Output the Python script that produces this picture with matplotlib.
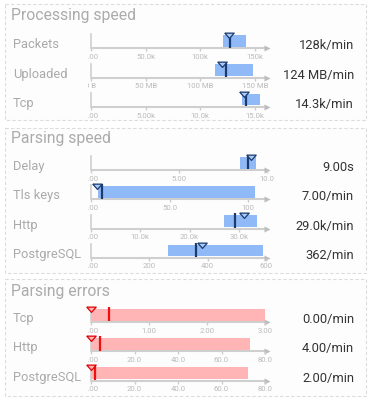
import matplotlib
matplotlib.use("Agg")
import matplotlib.pyplot as plt
from matplotlib.patches import Rectangle
from matplotlib.transforms import Bbox

plt.rcParams['font.family'] = ['Roboto', 'DejaVu Sans']

# ---------------- data ----------------
panel_titles = ["Processing speed", "Parsing speed", "Parsing errors"]
row_panel = [0, 0, 0, 1, 1, 1, 1, 2, 2, 2]
row_labels = ["Packets", "Uploaded", "Tcp", "Delay", "Tls keys", "Http",
              "PostgreSQL", "Tcp", "Http", "PostgreSQL"]
range_lo = [121, 113, 13.8, 8.5, 4.2, 26.9, 265, 0, 0, 0]
range_hi = [142, 148.5, 15.5, 9.37, 104.5, 33.7, 591, 3.0, 73, 72]
line_vals = [127.5, 123.5, 14.2, 8.93, 7.2, 29.2, 359, 0.31, 4.1, 1.8]
marker_vals = [126.6, 120, 13.96, 9.1, 3.6, 31.0, 382, 0, 0, 0]
axis_max = [161, 161, 16.1, 10.02, 111.9, 35.7, 603, 3.03, 80.9, 80.9]
tick_vals = [[0, 50, 100, 150], [0, 50, 100, 150], [0, 5, 10, 15],
             [0, 5, 10], [0, 50, 100], [0, 10, 20, 30], [0, 200, 400, 600],
             [0, 1, 2, 3], [0, 20, 40, 60, 80], [0, 20, 40, 60, 80]]
tick_text = [["0.00", "50.0k", "100k", "150k"],
             ["0 B", "50 MB", "100 MB", "150 MB"],
             ["0.00", "5.00k", "10.0k", "15.0k"],
             ["0.00", "5.00", "10.0"],
             ["0.00", "50.0", "100"],
             ["0.00", "10.0k", "20.0k", "30.0k"],
             ["0.00", "200", "400", "600"],
             ["0.00", "1.00", "2.00", "3.00"],
             ["0.00", "20.0", "40.0", "60.0", "80.0"],
             ["0.00", "20.0", "40.0", "60.0", "80.0"]]
value_text = ["128k/min", "124 MB/min", "14.3k/min", "9.00s", "7.00/min",
              "29.0k/min", "362/min", "0.00/min", "4.00/min", "2.00/min"]

# ---------------- style / layout ----------------
W, H = 371, 406
panel_boxes = [(4.5, 5, 366, 121), (4.5, 128.5, 366, 273.5), (4.5, 280, 366, 397)]
title_base = [20.0, 143.3, 295.7]
first_axis_y = [49.3, 171.0, 323.0]
row_step = 29.3
ax_x0, ax_x1 = 91, 267
ax_h = 15

blue = dict(bar="#8fbaf7", line="#1b3a6e", tri_fc="#a9c9f8", tri_ec="#1b3a6e")
red = dict(bar="#ffb5b5", line="#f01010", tri_fc="#ffb5b5", tri_ec="#e00000")
panel_colors = [blue, blue, red]

fig = plt.figure(figsize=(W / 100, H / 100), dpi=100)
fig.patch.set_facecolor("white")
base = fig.add_axes([0, 0, 1, 1])
base.set_xlim(0, W)
base.set_ylim(H, 0)
base.axis("off")

for (x0, y0, x1, y1), t, tb in zip(panel_boxes, panel_titles, title_base):
    base.add_patch(Rectangle((x0, y0), x1 - x0, y1 - y0, facecolor="#fdfdfd",
                             edgecolor="#dcdcdc", lw=0.8, linestyle=(0, (3, 2))))
    base.text(11, tb, t, fontsize=11.3, color="#ababab", va="baseline", ha="left")

clip = Bbox([[88.3, 0], [W, H]])
tri = [(-1, 0.5), (1, 0.5), (0, -0.62), (-1, 0.5)]

counts = {}
for i in range(len(row_labels)):
    p = row_panel[i]
    k = counts.get(p, 0)
    counts[p] = k + 1
    ay = first_axis_y[p] + k * row_step
    c = panel_colors[p]

    base.text(13, ay - 1, row_labels[i], fontsize=9.3, color="#aaaaaa",
              va="baseline", ha="left")
    base.text(354, ay, value_text[i], fontsize=9.3, color="#333333",
              va="baseline", ha="right")

    ax = fig.add_axes([ax_x0 / W, (H - ay) / H, (ax_x1 - ax_x0) / W, ax_h / H])
    ax.set_facecolor("none")
    ax.set_xlim(0, axis_max[i])
    ax.set_ylim(0, ax_h)
    for s in ["top", "right", "left", "bottom"]:
        ax.spines[s].set_visible(False)
    ax.set_yticks([])
    ax.set_xticks(tick_vals[i])
    ax.set_xticklabels([])
    ax.tick_params(axis="x", direction="out", length=2.5, width=1,
                   color="#cccccc")

    # axis line, left rule, arrow
    ax.plot([0, axis_max[i]], [0, 0], color="#cfcfcf", lw=1.5,
            solid_capstyle="butt", clip_on=False, zorder=1)
    ax.plot([0, 0], [0, 14], color="#cfcfcf", lw=1.2, clip_on=False, zorder=1)
    ax.plot([axis_max[i]], [0], marker=">", ms=5, color="#bdbdbd",
            mec="none", clip_on=False, zorder=1)

    # range bar
    ax.barh([7.4], [range_hi[i] - range_lo[i]], left=[range_lo[i]],
            height=11.8, color=c["bar"], zorder=2)
    # value line
    ax.plot([line_vals[i], line_vals[i]], [0.6, 15.2], color=c["line"],
            lw=1.6, solid_capstyle="butt", clip_on=False, zorder=3)
    # marker triangle
    ax.plot([marker_vals[i]], [13.3], marker=tri, ms=6.8, mfc=c["tri_fc"],
            mec=c["tri_ec"], mew=0.9, clip_on=False, zorder=4, ls="none")

    for v, t in zip(tick_vals[i], tick_text[i]):
        txt = ax.text(v, -7.6, t, fontsize=5.6, color="#bbbbbb", ha="center",
                      va="center", clip_on=True)
        txt.set_clip_box(clip)

fig.savefig("out.png", dpi=100, facecolor="white")
